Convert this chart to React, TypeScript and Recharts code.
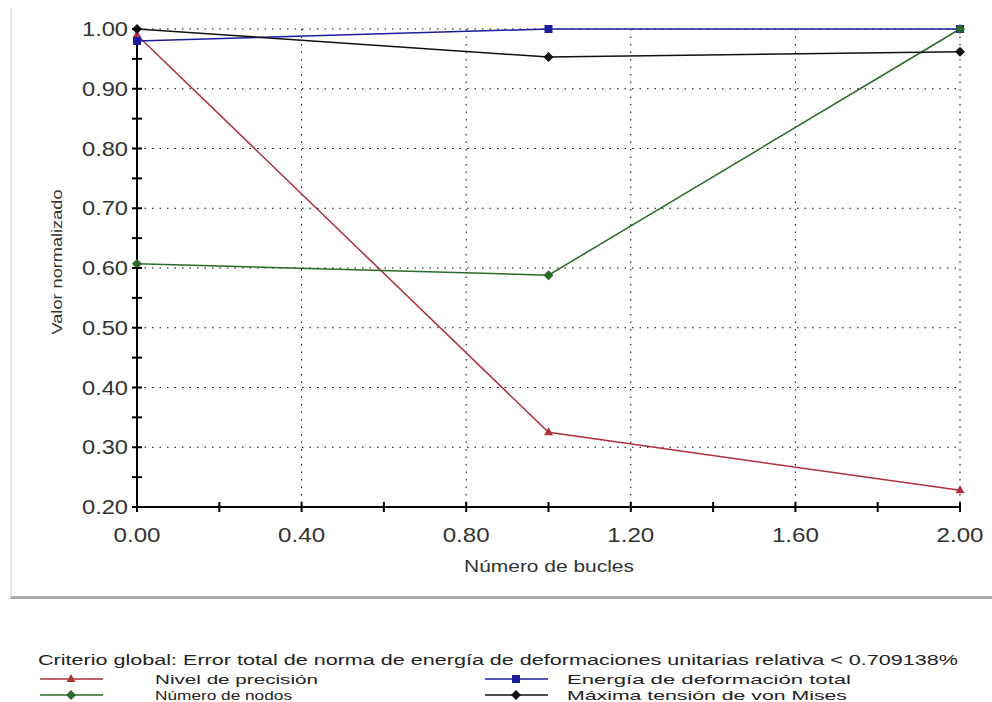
import React from "react";
import {
  LineChart,
  Line,
  XAxis,
  YAxis,
  CartesianGrid,
} from "recharts";

// bucles (x) and the four normalised series
const bucles = [0, 1, 2];
const nivelPrecision = [0.99, 0.325, 0.228];
const energiaTotal = [0.98, 1.0, 1.0];
const numeroNodos = [0.607, 0.588, 1.0];
const tensionVonMises = [1.0, 0.953, 0.962];

const xTicks = [0, 0.2, 0.4, 0.6, 0.8, 1.0, 1.2, 1.4, 1.6, 1.8, 2.0];
const xLabelTicks = [0, 0.4, 0.8, 1.2, 1.6, 2.0];
const yTicks = [0.2, 0.25, 0.3, 0.35, 0.4, 0.45, 0.5, 0.55, 0.6, 0.65, 0.7, 0.75, 0.8, 0.85, 0.9, 0.95, 1.0];
const yLabelTicks = [0.2, 0.3, 0.4, 0.5, 0.6, 0.7, 0.8, 0.9, 1.0];

const legendTitle =
  "Criterio global: Error total de norma de energía de deformaciones unitarias relativa < 0.709138%";

const series = [
  { key: "precision", name: "Nivel de precisión", color: "#b0303c", shape: "triangle" },
  { key: "energia", name: "Energía de deformación total", color: "#1c1c9c", shape: "square" },
  { key: "nodos", name: "Número de nodos", color: "#2a6a2a", shape: "diamond" },
  { key: "vonMises", name: "Máxima tensión de von Mises", color: "#111111", shape: "diamond" },
];

const data = bucles.map((b, i) => ({
  x: b,
  precision: nivelPrecision[i],
  energia: energiaTotal[i],
  nodos: numeroNodos[i],
  vonMises: tensionVonMises[i],
}));

const FONT = "Arial, 'Liberation Sans', sans-serif";

function Marker({ cx, cy, shape, color }: any) {
  if (cx == null || cy == null) return null;
  if (shape === "square") {
    return <rect x={cx - 4} y={cy - 4} width={8} height={8} fill={color} />;
  }
  if (shape === "triangle") {
    return (
      <polygon
        points={`${cx},${cy - 5} ${cx + 4.5},${cy + 3} ${cx - 4.5},${cy + 3}`}
        fill={color}
      />
    );
  }
  return (
    <polygon
      points={`${cx},${cy - 5} ${cx + 5},${cy} ${cx},${cy + 5} ${cx - 5},${cy}`}
      fill={color}
    />
  );
}

const isLabel = (v: number, list: number[]) =>
  list.some((l) => Math.abs(l - v) < 1e-6);

function XTick({ x, y, payload }: any) {
  const v = payload.value;
  return (
    <g>
      <line x1={x} x2={x} y1={y - 5} y2={y + 5} stroke="#000" strokeWidth={2} />
      {isLabel(v, xLabelTicks) && (
        <text
          x={x}
          y={y + 35}
          textAnchor="middle"
          fontSize={20}
          fontFamily={FONT}
          fill="#333"
          textLength={47}
          lengthAdjust="spacingAndGlyphs"
        >
          {v.toFixed(2)}
        </text>
      )}
    </g>
  );
}

function YTick({ x, y, payload }: any) {
  const v = payload.value;
  return (
    <g>
      <line x1={x - 5} x2={x + 5} y1={y} y2={y} stroke="#000" strokeWidth={2} />
      {isLabel(v, yLabelTicks) && (
        <text
          x={x - 9}
          y={y + 7}
          textAnchor="end"
          fontSize={20}
          fontFamily={FONT}
          fill="#333"
          textLength={46}
          lengthAdjust="spacingAndGlyphs"
        >
          {v.toFixed(2)}
        </text>
      )}
    </g>
  );
}

function LegendRow({ s, x, y, textX, textLen }: any) {
  return (
    <g>
      <line x1={x} x2={x + 63} y1={y} y2={y} stroke={s.color} strokeWidth={1.5} />
      <Marker cx={x + 31} cy={y} shape={s.shape} color={s.color} />
      <text
        x={textX}
        y={y + 5}
        fontSize={13}
        fontFamily={FONT}
        fill="#222"
        textLength={textLen}
        lengthAdjust="spacingAndGlyphs"
      >
        {s.name}
      </text>
    </g>
  );
}

export default function App() {
  return (
    <div
      style={{
        position: "absolute",
        left: 0,
        top: 0,
        width: 992,
        height: 702,
        background: "#fff",
        overflow: "hidden",
      }}
    >
      {/* frame */}
      <div
        style={{
          position: "absolute",
          left: 10,
          top: 8,
          width: 990,
          height: 588,
          borderLeft: "2px solid #e4e4e4",
          borderBottom: "3px solid #a8a8a8",
        }}
      />
      <div style={{ position: "absolute", left: 0, top: 0 }}>
        <LineChart
          width={992}
          height={600}
          data={data}
          margin={{ top: 29, right: 32, bottom: 63, left: 77 }}
        >
          <CartesianGrid
            stroke="#000"
            strokeDasharray="1.5 6"
            horizontalValues={[0.3, 0.4, 0.5, 0.6, 0.7, 0.8, 0.9, 1.0]}
            verticalValues={[0.4, 0.8, 1.2, 1.6, 2.0]}
          />
          <XAxis
            dataKey="x"
            type="number"
            domain={[0, 2]}
            ticks={xTicks}
            interval={0}
            height={30}
            tickSize={0}
            tickMargin={0}
            tickLine={false}
            axisLine={{ stroke: "#000", strokeWidth: 2 }}
            tick={<XTick />}
          />
          <YAxis
            type="number"
            domain={[0.2, 1.0]}
            ticks={yTicks}
            interval={0}
            width={60}
            tickSize={0}
            tickMargin={0}
            tickLine={false}
            axisLine={{ stroke: "#000", strokeWidth: 2 }}
            tick={<YTick />}
          />
          {series.map((s) => (
            <Line
              key={s.key}
              type="linear"
              dataKey={s.key}
              stroke={s.color}
              strokeWidth={1.5}
              isAnimationActive={false}
              dot={(p: any) => (
                <Marker key={`${s.key}-${p.index}`} cx={p.cx} cy={p.cy} shape={s.shape} color={s.color} />
              )}
              activeDot={false}
            />
          ))}
        </LineChart>
      </div>
      {/* titles and legend */}
      <svg
        width={992}
        height={702}
        style={{ position: "absolute", left: 0, top: 0, pointerEvents: "none" }}
      >
        <text
          x={549}
          y={572}
          textAnchor="middle"
          fontSize={17}
          fontFamily={FONT}
          fill="#333"
          textLength={170}
          lengthAdjust="spacingAndGlyphs"
        >
          Número de bucles
        </text>
        <text
          transform="translate(62,262) rotate(-90)"
          textAnchor="middle"
          fontSize={15}
          fontFamily={FONT}
          fill="#333"
          textLength={145}
          lengthAdjust="spacingAndGlyphs"
        >
          Valor normalizado
        </text>
        <text
          x={38}
          y={665}
          fontSize={14}
          fontFamily={FONT}
          fill="#222"
          textLength={920}
          lengthAdjust="spacingAndGlyphs"
        >
          {legendTitle}
        </text>
        <LegendRow s={series[0]} x={40} y={679} textX={155} textLen={163} />
        <LegendRow s={series[2]} x={40} y={695} textX={155} textLen={137} />
        <LegendRow s={series[1]} x={485} y={679} textX={567} textLen={284} />
        <LegendRow s={series[3]} x={485} y={695} textX={567} textLen={280} />
      </svg>
    </div>
  );
}
